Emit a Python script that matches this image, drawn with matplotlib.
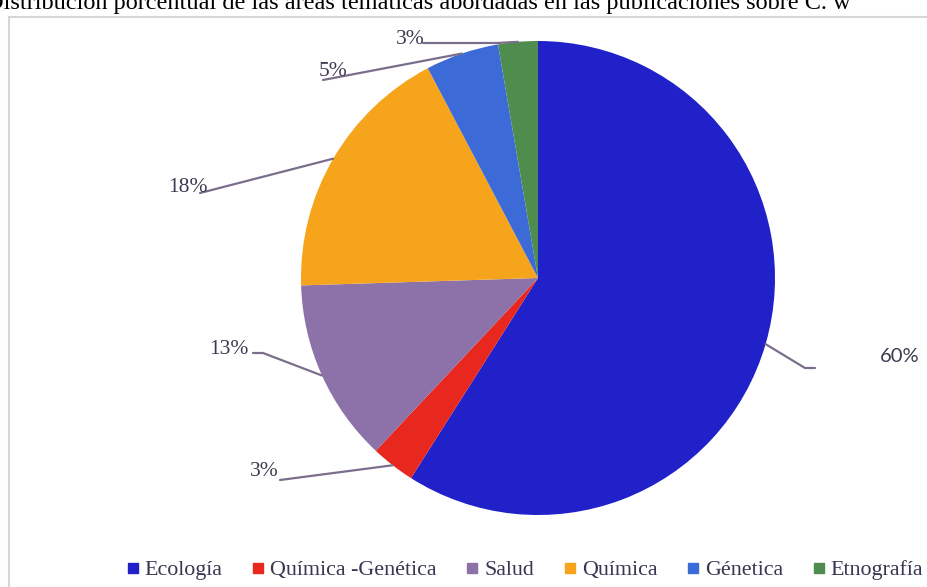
import numpy as np
import matplotlib
matplotlib.use("Agg")
import matplotlib.pyplot as plt
from matplotlib.lines import Line2D

# ---- data ----
categories = ["Ecología", "Química -Genética", "Salud", "Química", "Génetica", "Etnografía"]
values = [59.0, 3.0, 12.5, 17.8, 5.0, 2.7]
pct_labels = ["60%", "3%", "13%", "18%", "5%", "3%"]
colors = ["#2121c9", "#e8271f", "#8c72a9", "#f6a41c", "#3c6bd7", "#4f8d4f"]
title = "Distribución porcentual de las áreas temáticas abordadas en las publicaciones sobre C. w"

W, H = 927, 587
fig = plt.figure(figsize=(W / 100, H / 100), dpi=100)
ax = fig.add_axes([0, 0, 1, 1])

def P(x, y):
    return (x, H - y)

cx, cy = P(538, 278)
R = 237
wedges, _ = ax.pie(values, colors=colors, startangle=90, counterclock=False,
                   center=(cx, cy), radius=R, frame=True,
                   wedgeprops=dict(linewidth=0))
ax.set_xlim(0, W)
ax.set_ylim(0, H)
ax.axis("off")

# label layout (pixel coords from top-left): line points after wedge edge, text pos, font
layout = [
    dict(pts=[(805, 368), (815, 368)], txt=(900, 357), sans=True),
    dict(pts=[(280, 480)], txt=(264, 472), sans=False),
    dict(pts=[(263, 353), (253, 353)], txt=(229, 349), sans=False),
    dict(pts=[(200, 193)], txt=(188, 188), sans=False),
    dict(pts=[(323, 80)], txt=(333, 72), sans=False),
    dict(pts=[(497, 43), (423, 43)], txt=(410, 39), sans=False),
]

line_col = "#7a6e8c"
text_col = "#3f3950"
for w, lab, lay in zip(wedges, pct_labels, layout):
    th = np.deg2rad((w.theta1 + w.theta2) / 2)
    xs = [cx + R * np.cos(th)]
    ys = [cy + R * np.sin(th)]
    for (px, py) in lay["pts"]:
        xx, yy = P(px, py)
        xs.append(xx)
        ys.append(yy)
    ax.plot(xs, ys, color=line_col, lw=1.6, solid_capstyle="round", zorder=3)
    tx, ty = P(*lay["txt"])
    if lay["sans"]:
        ax.text(tx, ty, lab, ha="center", va="center", fontsize=14.5,
                family="Lato", color=text_col)
    else:
        ax.text(tx, ty, lab, ha="center", va="center", fontsize=15.5,
                family="Liberation Serif", color=text_col)

# frame border (light gray)
bx, by = 9 / W, 1 - 17 / H
fig.add_artist(Line2D([bx, bx], [0, by], transform=fig.transFigure, color="#d6d6d6", lw=1.5))
fig.add_artist(Line2D([bx, 1.0], [by, by], transform=fig.transFigure, color="#d6d6d6", lw=1.5))

# partially clipped title
fig.text(-14 / W, 1 - 9 / H, title, ha="left", va="baseline", fontsize=17.5,
         family="Liberation Serif", color="black")

# legend
handles = [Line2D([], [], marker="s", linestyle="none", markersize=6.5,
                  markerfacecolor=c, markeredgecolor=c) for c in colors]
leg = fig.legend(handles, categories, loc="center", bbox_to_anchor=(0.566, 1 - 570 / H),
                 ncol=6, frameon=False, handlelength=0.6, handletextpad=0.25,
                 columnspacing=1.32, borderaxespad=0, borderpad=0,
                 prop=dict(family="Liberation Serif", size=15.8))
for t in leg.get_texts():
    t.set_color("#3a3550")

fig.savefig("out.png", dpi=100)
